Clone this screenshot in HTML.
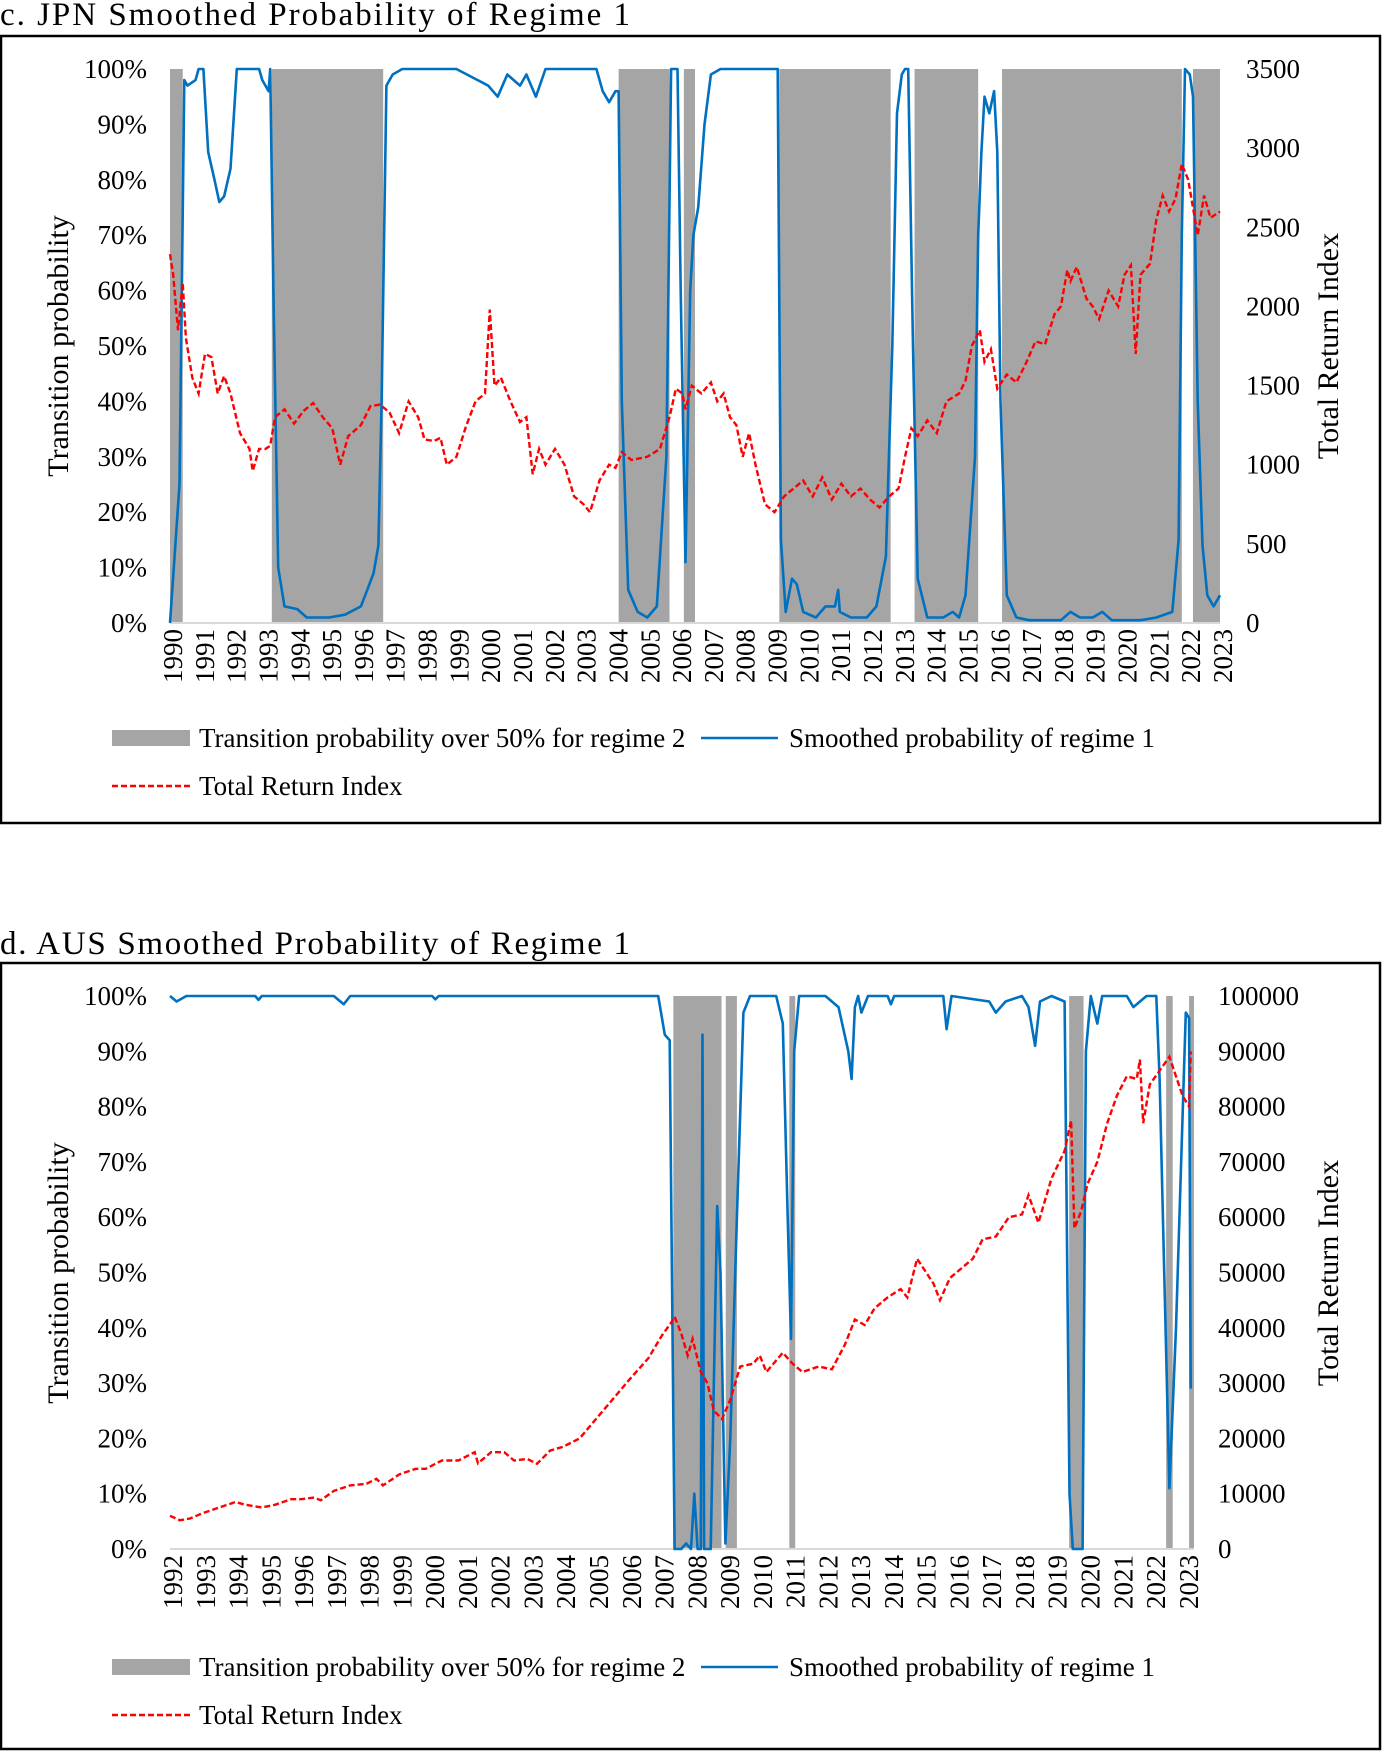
<!DOCTYPE html>
<html><head><meta charset="utf-8"><style>
html,body{margin:0;padding:0;background:#fff;}
svg{display:block;font-family:"Liberation Serif","Times New Roman",serif;}
</style></head><body>
<svg id="s" width="1382" height="1752" viewBox="0 0 1382 1752" xmlns="http://www.w3.org/2000/svg"></svg>
<script>
// ---------- Chart c (JPN) data ----------
const jpnYears = [1990,1991,1992,1993,1994,1995,1996,1997,1998,1999,2000,2001,2002,2003,2004,2005,2006,2007,2008,2009,2010,2011,2012,2013,2014,2015,2016,2017,2018,2019,2020,2021,2022,2023];
const jpnShade = [[1990.0,1990.4],[1993.2,1996.7],[2004.1,2005.7],[2006.15,2006.5],[2009.15,2012.65],[2013.4,2015.4],[2016.15,2021.8],[2022.15,2023.0]];
const jpnProbT = [1990.0,1990.3,1990.45,1990.55,1990.8,1990.9,1991.05,1991.2,1991.4,1991.55,1991.7,1991.9,1992.1,1992.5,1992.8,1992.9,1993.1,1993.15,1993.25,1993.4,1993.6,1994.0,1994.3,1995.0,1995.5,1996.0,1996.2,1996.4,1996.55,1996.65,1996.8,1997.0,1997.3,1998.0,1999.0,2000.0,2000.3,2000.6,2001.0,2001.2,2001.5,2001.8,2002.5,2003.4,2003.6,2003.8,2004.0,2004.1,2004.2,2004.4,2004.7,2005.0,2005.3,2005.6,2005.75,2005.95,2006.05,2006.2,2006.35,2006.45,2006.6,2006.8,2007.0,2007.3,2009.0,2009.1,2009.2,2009.35,2009.55,2009.7,2009.9,2010.3,2010.6,2010.9,2011.0,2011.05,2011.4,2011.9,2012.2,2012.5,2012.7,2012.85,2013.0,2013.1,2013.2,2013.35,2013.5,2013.8,2014.3,2014.6,2014.8,2015.0,2015.3,2015.4,2015.5,2015.6,2015.75,2015.9,2016.0,2016.1,2016.3,2016.6,2017.0,2017.5,2018.0,2018.3,2018.6,2019.0,2019.3,2019.6,2020.0,2020.5,2021.0,2021.5,2021.7,2021.8,2021.9,2022.05,2022.15,2022.3,2022.45,2022.6,2022.8,2023.0];
const jpnProbV = [0,25,98,97,98,100,100,85,80,76,77,82,100,100,100,98,96,100,60,10,3,2.5,1,1,1.5,3,6,9,14,40,97,99,100,100,100,97,95,99,97,99,95,100,100,100,96,94,96,96,40,6,2,1,3,30,100,100,60,11,60,70,75,90,99,100,100,100,15,2,8,7,2,1,3,3,6,2,1,1,3,12,50,92,99,100,100,50,8,1,1,2,1,5,30,70,85,95,92,96,85,40,5,1,0.5,0.5,0.5,2,1,1,2,0.5,0.5,0.5,1,2,15,70,100,99,95,40,14,5,3,5];
const jpnIdxT = [1990.0,1990.1,1990.25,1990.4,1990.5,1990.7,1990.9,1991.1,1991.3,1991.5,1991.7,1991.9,1992.2,1992.5,1992.6,1992.8,1993.0,1993.15,1993.3,1993.6,1993.9,1994.2,1994.5,1994.8,1995.1,1995.35,1995.6,1996.0,1996.3,1996.6,1996.9,1997.2,1997.5,1997.8,1998.0,1998.3,1998.5,1998.7,1999.0,1999.3,1999.6,1999.9,2000.05,2000.2,2000.4,2000.7,2001.0,2001.2,2001.4,2001.6,2001.8,2002.1,2002.4,2002.7,2003.0,2003.2,2003.5,2003.8,2004.0,2004.2,2004.5,2005.0,2005.4,2005.7,2005.9,2006.1,2006.2,2006.4,2006.7,2007.0,2007.2,2007.4,2007.6,2007.8,2008.0,2008.2,2008.4,2008.7,2009.0,2009.3,2009.6,2009.9,2010.2,2010.5,2010.8,2011.1,2011.4,2011.7,2012.0,2012.3,2012.6,2012.9,2013.1,2013.3,2013.5,2013.8,2014.1,2014.4,2014.8,2015.0,2015.2,2015.45,2015.6,2015.8,2016.0,2016.3,2016.6,2016.9,2017.2,2017.5,2017.8,2018.0,2018.2,2018.3,2018.5,2018.8,2019.0,2019.2,2019.5,2019.8,2020.0,2020.2,2020.35,2020.5,2020.8,2021.0,2021.2,2021.4,2021.6,2021.8,2022.0,2022.3,2022.5,2022.7,2023.0];
const jpnIdxV = [2330,2200,1850,2150,1800,1550,1450,1700,1680,1450,1560,1450,1200,1100,960,1100,1100,1120,1300,1350,1260,1340,1390,1300,1230,1000,1180,1250,1370,1380,1330,1200,1400,1300,1160,1150,1170,1000,1050,1240,1400,1450,1980,1500,1550,1400,1270,1300,940,1100,1000,1100,1000,800,750,700,900,1000,980,1080,1030,1050,1100,1300,1480,1450,1350,1500,1450,1520,1400,1450,1300,1250,1050,1200,1000,750,700,800,850,900,800,920,780,880,800,850,780,730,800,850,1050,1230,1180,1280,1200,1400,1450,1530,1750,1850,1650,1730,1480,1570,1520,1640,1780,1760,1950,2000,2230,2160,2250,2050,2000,1920,2100,2000,2200,2260,1700,2200,2270,2550,2700,2600,2680,2900,2800,2450,2700,2560,2600];
const jpnLeftTicks = ["0%","10%","20%","30%","40%","50%","60%","70%","80%","90%","100%"];
const jpnRightTicks = [0,500,1000,1500,2000,2500,3000,3500];

// ---------- Chart d (AUS) data ----------
const ausYears = [1992,1993,1994,1995,1996,1997,1998,1999,2000,2001,2002,2003,2004,2005,2006,2007,2008,2009,2010,2011,2012,2013,2014,2015,2016,2017,2018,2019,2020,2021,2022,2023];
const ausShade = [[2007.36,2008.83],[2008.96,2009.3],[2010.9,2011.08],[2019.44,2019.88],[2022.4,2022.6],[2023.1,2023.25]];
const ausProbT = [1992.0,1992.2,1992.5,1994.6,1994.7,1994.8,1997.0,1997.3,1997.5,2000.0,2000.1,2000.2,2006.9,2007.1,2007.25,2007.3,2007.4,2007.6,2007.75,2007.9,2008.0,2008.1,2008.2,2008.25,2008.3,2008.5,2008.7,2008.8,2008.95,2009.1,2009.3,2009.5,2009.7,2010.5,2010.7,2010.85,2010.95,2011.05,2011.2,2012.0,2012.4,2012.7,2012.8,2012.9,2013.0,2013.1,2013.3,2013.9,2014.0,2014.1,2015.6,2015.7,2015.85,2017.0,2017.2,2017.5,2018.0,2018.2,2018.4,2018.55,2018.9,2019.3,2019.45,2019.55,2019.85,2019.95,2020.1,2020.3,2020.45,2021.2,2021.4,2021.8,2022.1,2022.2,2022.5,2022.7,2023.0,2023.1,2023.15];
const ausProbV = [100,99,100,100,99.3,100,100,98.5,100,100,99.4,100,100,93,92,60,0,0,1,0,10,0,0,93,0,0,62,50,1,20,60,97,100,100,95,60,38,90,100,100,98,90,85,98,100,97,100,100,98.5,100,100,94,100,99,97,99,100,98,91,99,100,99,10,0,0,90,100,95,100,100,98,100,100,85,11,40,97,96,29];
const ausIdxT = [1992.0,1992.3,1992.6,1993.0,1993.5,1994.0,1994.3,1994.8,1995.2,1995.7,1996.0,1996.4,1996.6,1997.0,1997.5,1998.0,1998.3,1998.5,1999.0,1999.5,1999.8,2000.3,2000.8,2001.3,2001.4,2001.8,2002.2,2002.5,2002.9,2003.2,2003.6,2004.0,2004.5,2005.0,2005.5,2006.0,2006.6,2007.0,2007.3,2007.4,2007.6,2007.8,2007.95,2008.2,2008.4,2008.6,2008.85,2009.1,2009.4,2009.8,2010.0,2010.2,2010.7,2011.0,2011.3,2011.8,2012.2,2012.6,2012.9,2013.2,2013.5,2013.9,2014.3,2014.5,2014.8,2015.3,2015.5,2015.8,2016.2,2016.5,2016.8,2017.2,2017.6,2018.0,2018.2,2018.5,2018.9,2019.3,2019.5,2019.6,2019.8,2020.0,2020.3,2020.6,2020.9,2021.2,2021.5,2021.6,2021.7,2021.9,2022.5,2022.9,2023.1,2023.15];
const ausIdxV = [6000,5200,5500,6500,7500,8500,8000,7500,8000,9000,9000,9300,8800,10500,11500,11800,12700,11500,13500,14500,14500,16000,16000,17500,15500,17500,17500,16000,16300,15400,17800,18500,20000,23500,27000,30500,34500,38500,41000,42000,39000,35000,38000,32000,30000,25000,23500,27000,33000,33500,35000,32000,35500,33500,32000,33000,32500,37000,41500,40500,43500,45500,47000,45500,52500,48000,45000,49000,51000,52500,56000,56500,60000,60500,64000,59000,67000,72000,77500,58000,61000,66000,70000,77000,82000,85500,85000,88500,77000,84000,89000,82000,80000,90000];
const ausLeftTicks = ["0%","10%","20%","30%","40%","50%","60%","70%","80%","90%","100%"];
const ausRightTicks = [0,10000,20000,30000,40000,50000,60000,70000,80000,90000,100000];

const NS="http://www.w3.org/2000/svg";
const svg=document.getElementById('s');
function mk(tag,attrs,parent){const e=document.createElementNS(NS,tag);for(const k in attrs)e.setAttribute(k,attrs[k]);(parent||svg).appendChild(e);return e;}

function drawChart(cfg){
  const g=mk('g',{});
  
  
  const {x0,x1,y0,y1,t0,t1,rmax}=cfg;
  const X=t=>x0+(t-t0)/(t1-t0)*(x1-x0);
  const YL=v=>y1-(v/100)*(y1-y0);
  const YR=v=>y1-(v/rmax)*(y1-y0);
  const fr=mk('rect',{x:cfg.fx,y:cfg.fy,width:cfg.fw,height:cfg.fh,fill:'none',stroke:'#000','stroke-width':2.5},g);
  
  
  const ti=mk('text',{x:0,y:cfg.ty,'font-size':33,fill:'#000',textLength:630,lengthAdjust:'spacing'},g);
  ti.textContent=cfg.title;
  
  
  cfg.shade.forEach(s=>{
    const r=mk('rect',{x:X(s[0]),y:y0,width:Math.max(1,X(s[1])-X(s[0])),height:y1-y0,fill:'#a5a5a5'},g);
    
    
  });
  const ax=mk('line',{x1:x0,x2:x1,y1:y1,y2:y1,stroke:'#d9d9d9','stroke-width':2},g);
  
  
  let d='';cfg.pt.forEach((t,i)=>{d+=(i?'L':'M')+X(t).toFixed(1)+' '+YL(cfg.pv[i]).toFixed(1);});
  const pb=mk('path',{d:d,fill:'none',stroke:'#0070c0','stroke-width':2.6,'stroke-linejoin':'round'},g);
  
  
  d='';cfg.it.forEach((t,i)=>{d+=(i?'L':'M')+X(t).toFixed(1)+' '+YR(cfg.iv[i]).toFixed(1);});
  const pr=mk('path',{d:d,fill:'none',stroke:'#ff0000','stroke-width':2.4,'stroke-dasharray':'6 3'},g);
  
  
  cfg.lt.forEach((lab,i)=>{
    const tx=mk('text',{x:147,y:YL(i*10)+9,'font-size':27,'text-anchor':'end'},g);
    tx.textContent=lab;
    
    
  });
  cfg.rt.forEach(v=>{
    const tx=mk('text',{x:cfg.rx,y:YR(v)+9,'font-size':27,'text-anchor':'start'},g);
    tx.textContent=String(v);
    
    
  });
  cfg.years.forEach(yr=>{
    const px=X(yr)+3, py=y1+6;
    const tx=mk('text',{x:px,y:py+9,'font-size':27,'text-anchor':'end',transform:`rotate(-90 ${px} ${py})`},g);
    tx.textContent=String(yr);
    
    
  });
  const cy=cfg.cy;
  const lt=mk('text',{x:68,y:cy,'font-size':30,'text-anchor':'middle',transform:`rotate(-90 68 ${cy})`},g);
  lt.textContent='Transition probability';
  
  
  const rtx=mk('text',{x:1338,y:cy,'font-size':30,'text-anchor':'middle',transform:`rotate(-90 1338 ${cy})`},g);
  rtx.textContent='Total Return Index';
  
  
  const l1=cfg.ly, l2=cfg.ly+48;
  const sw=mk('rect',{x:112,y:l1-8,width:78,height:16,fill:'#a5a5a5'},g);
  
  
  let t=mk('text',{x:199,y:l1+9,'font-size':27},g);t.textContent='Transition probability over 50% for regime 2';
  
  
  const bl=mk('line',{x1:701,x2:778,y1:l1,y2:l1,stroke:'#0070c0','stroke-width':2.6},g);
  
  
  t=mk('text',{x:789,y:l1+9,'font-size':27},g);t.textContent='Smoothed probability of regime 1';
  
  
  const rl=mk('line',{x1:112,x2:190,y1:l2,y2:l2,stroke:'#ff0000','stroke-width':2.4,'stroke-dasharray':'6 3'},g);
  
  
  t=mk('text',{x:199,y:l2+9,'font-size':27},g);t.textContent='Total Return Index';
  
  
}

drawChart({name:'jpn-chart',title:'c.   JPN Smoothed  Probability  of Regime  1',ty:25,fx:1,fy:36,fw:1379,fh:787,
  x0:170,x1:1220,y0:69,y1:623,t0:1990,t1:2023,rmax:3500,rx:1246,cy:346,
  shade:jpnShade,pt:jpnProbT,pv:jpnProbV,it:jpnIdxT,iv:jpnIdxV,lt:jpnLeftTicks,rt:jpnRightTicks,years:jpnYears,ly:738});
drawChart({name:'aus-chart',title:'d.   AUS Smoothed  Probability  of Regime  1',ty:954,fx:1,fy:963,fw:1379,fh:786,
  x0:170,x1:1194,y0:996,y1:1549,t0:1992,t1:2023.25,rmax:100000,rx:1218,cy:1273,
  shade:ausShade,pt:ausProbT,pv:ausProbV,it:ausIdxT,iv:ausIdxV,lt:ausLeftTicks,rt:ausRightTicks,years:ausYears,ly:1667});
</script>
</body></html>
